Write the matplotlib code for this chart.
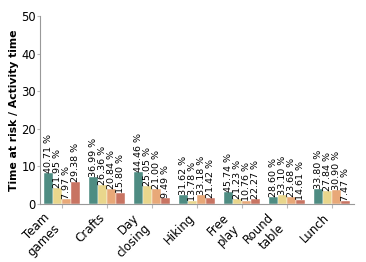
import matplotlib
matplotlib.use("Agg")
import matplotlib.pyplot as plt
import numpy as np

categories = ["Team\ngames", "Crafts", "Day\nclosing", "Hiking", "Free\nplay", "Round\ntable", "Lunch"]
s1 = [8.2, 7.1, 8.5, 2.3, 3.2, 1.95, 4.1]
s2 = [4.3, 5.1, 4.8, 0.9, 1.3, 2.4, 3.4]
s3 = [1.4, 3.9, 3.9, 2.5, 0.7, 1.8, 3.7]
s4 = [5.8, 3.0, 1.6, 1.6, 1.4, 1.06, 0.9]
l1 = ["40.71", "36.99", "44.46", "31.62", "45.74", "28.60", "33.80"]
l2 = ["21.95", "26.36", "25.05", "13.78", "21.23", "33.10", "27.84"]
l3 = ["7.97", "20.84", "21.00", "33.18", "10.76", "23.68", "30.90"]
l4 = ["29.38", "15.80", "9.49", "21.42", "22.27", "14.61", "7.47"]
colors = ["#4e8c82", "#e9d68c", "#e8a878", "#c87462"]

fig = plt.figure(figsize=(3.66, 2.62), dpi=100)
ax = fig.add_axes([40/366, 58/262, 314/366, 188/262])
x = np.arange(len(categories))
w = 0.2
for i, (vals, labs) in enumerate(zip([s1, s2, s3, s4], [l1, l2, l3, l4])):
    pos = x - 0.3 + i * w
    ax.bar(pos, vals, width=w, color=colors[i], edgecolor="white", linewidth=0.3)
    for px, v, lab in zip(pos, vals, labs):
        ax.text(px, v, lab + " %", rotation=90, ha="center", va="bottom", fontsize=6.8)

ax.set_xlim(-0.5, 6.5)
ax.set_ylim(0, 50)
ax.set_yticks([0, 10, 20, 30, 40, 50])
ax.set_xticks(x)
ax.set_xticklabels(categories, rotation=45, ha="right", fontsize=8.5)
ax.tick_params(axis="y", labelsize=8.3, length=2, color="#bbbbbb", pad=1)
ax.tick_params(axis="x", length=3, color="#bbbbbb", pad=2)
ax.set_ylabel("Time at risk / Activity time", fontsize=7.8, fontweight="bold")
ax.yaxis.set_label_coords(-0.066, 0.5)
for s in ["top", "right"]:
    ax.spines[s].set_visible(False)
for s in ["left", "bottom"]:
    ax.spines[s].set_color("#999999")
    ax.spines[s].set_linewidth(0.8)
fig.savefig("out.png", dpi=100)
